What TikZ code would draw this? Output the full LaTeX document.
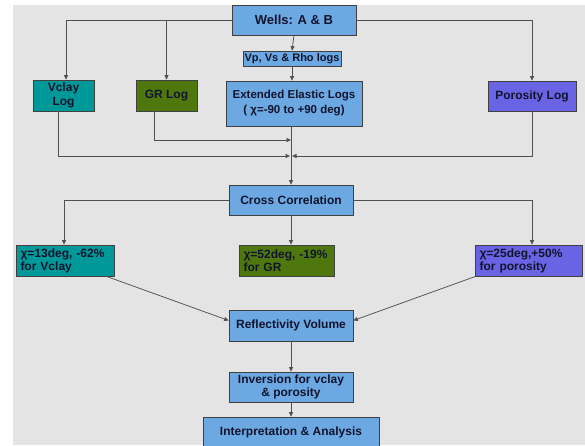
\documentclass[tikz,border=0pt]{standalone}
\usepackage{fontspec}
\setmainfont{Liberation Sans}
\usetikzlibrary{arrows.meta}

\definecolor{bgcol}{RGB}{228,228,228}
\definecolor{boxblue}{RGB}{108,168,226}
\definecolor{boxteal}{RGB}{0,152,152}
\definecolor{boxgreen}{RGB}{78,120,14}
\definecolor{boxpurple}{RGB}{104,100,228}
\definecolor{linecol}{RGB}{80,80,80}
\definecolor{txtcol}{RGB}{18,20,45}

\begin{document}
\begin{tikzpicture}[x=1pt,y=-1pt,
        >={Triangle[length=4.5pt,width=4pt]},
        flow/.style={draw=linecol,line width=0.75pt},
        box/.style={draw=black!75,line width=0.7pt,inner sep=0pt,text=txtcol,
                    font=\fontsize{12}{13.5}\selectfont\bfseries,align=center},
        res/.style={box,align=left,text width=#1-9pt,font=\fontsize{12}{13}\selectfont\bfseries}]
        \useasboundingbox (0,0) rectangle (585,445);
        \fill[bgcol] (13,5) rectangle (585,445);

        % top row
        \node[box,fill=boxblue,minimum width=124,minimum height=30,font=\fontsize{13}{15}\selectfont\bfseries] (wells) at (294,20) {Wells: A \& B};
        \node[box,fill=boxblue,minimum width=98,minimum height=15,font=\fontsize{11}{12}\selectfont\bfseries] (vp) at (292,58.5) {Vp, Vs \& Rho logs};
        \node[box,fill=boxblue,minimum width=136,minimum height=45,font=\fontsize{11.5}{15}\selectfont\bfseries] (eel) at (294,103.5) {Extended Elastic Logs\\( χ=-90 to +90 deg)};
        \node[box,fill=boxteal,minimum width=61,minimum height=31] (vclay) at (63.5,95.5) {Vclay\\Log};
        \node[box,fill=boxgreen,minimum width=61,minimum height=31] (gr) at (166.5,95.5) {GR Log};
        \node[box,fill=boxpurple,minimum width=88,minimum height=30] (poro) at (532,96) {Porosity Log};

        \coordinate (mergeA) at (291,140);
        \coordinate (mergeB) at (291,156);

        \node[box,fill=boxblue,minimum width=124,minimum height=30] (cross) at (291,200) {Cross Correlation};

        % correlation results
        \node[res=98,fill=boxteal,minimum width=98,minimum height=31] (vclayres) at (65,260.5) {χ=13deg, -62\%\\for Vclay};
        \node[res=95,fill=boxgreen,minimum width=95,minimum height=31] (grres) at (286.5,260.5) {χ=52deg, -19\%\\for GR};
        \node[res=107,fill=boxpurple,minimum width=107,minimum height=31] (porores) at (528.5,260.5) {χ=25deg,+50\%\\for porosity};

        \node[box,fill=boxblue,minimum width=124,minimum height=31] (refl) at (291,325.5) {Reflectivity Volume};
        \node[box,fill=boxblue,minimum width=124,minimum height=30] (inv) at (291,387) {Inversion for vclay\\\& porosity};
        \node[box,fill=boxblue,minimum width=176,minimum height=30] (interp) at (291,432) {Interpretation \& Analysis};

        % connectors
        \draw[flow,->] (wells.west) -| ([xshift=2.5pt]vclay.north);
        \draw[flow,->] (wells.west) -| (gr.north);
        \draw[flow,->] (wells.east) -| (poro.north);
        \draw[flow,->] (wells.south) -- (vp.north);
        \draw[flow,->] (vp.south) -- (vp.south |- eel.north);
        \draw[flow,->] ([xshift=-12.5pt]gr.south) |- (mergeA);
        \draw[flow,->] ([xshift=-5.5pt]vclay.south) |- ([xshift=-1pt]mergeB);
        \draw[flow,->] (poro.south) |- ([xshift=1pt]mergeB);
        \draw[flow,->] (eel.south -| cross.north) -- (cross.north);

        \draw[flow,->] (cross.west) -| ([xshift=-1pt]vclayres.north);
        \draw[flow,->] (cross.south) -- (cross.south |- grres.north);
        \draw[flow,->] (cross.east) -| ([xshift=3.5pt]porores.north);
        \draw[flow,->] ([xshift=-8pt]vclayres.south east) -- ([yshift=5pt]refl.west);
        \draw[flow,->] ([xshift=1pt]porores.south west) -- ([yshift=5pt]refl.east);
        \draw[flow,->] (refl.south) -- (inv.north);
        \draw[flow,->] (inv.south) -- (interp.north);
    \end{tikzpicture}
\end{document}
